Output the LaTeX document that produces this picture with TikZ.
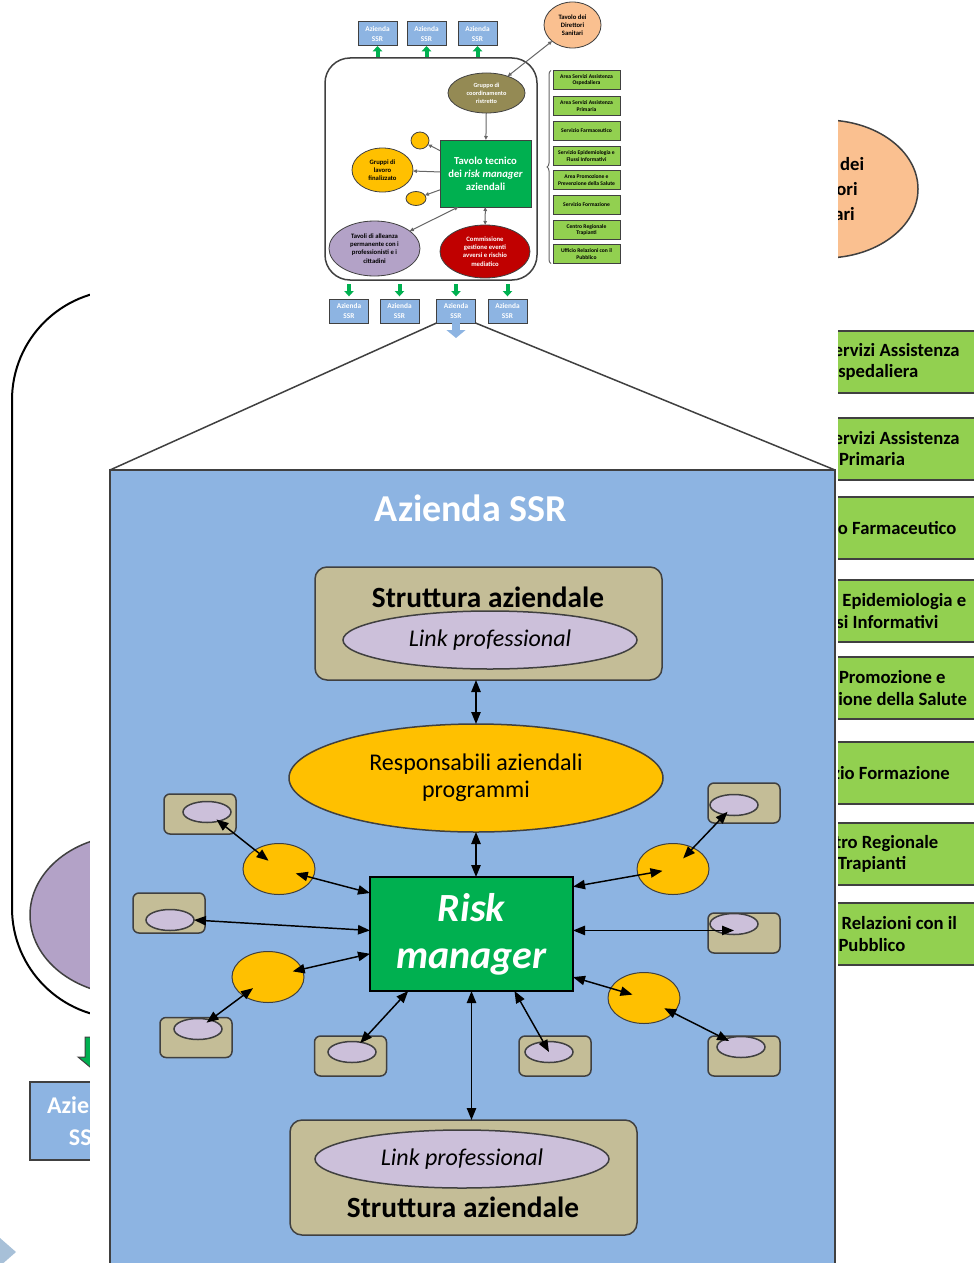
\documentclass[tikz,border=0pt]{standalone}
\usepackage{fontspec}
\setmainfont{Carlito}
\usetikzlibrary{calc,shapes.geometric,arrows.meta,decorations.pathreplacing}
\newlength{\pix}
\setlength{\pix}{0.75pt}
\definecolor{azblue}{HTML}{8DB4E2}
\definecolor{tanc}{HTML}{C4BD97}
\definecolor{lavc}{HTML}{CCC0DA}
\definecolor{ambra}{HTML}{FFC000}
\definecolor{verde}{HTML}{00B050}
\definecolor{verdino}{HTML}{92D050}
\definecolor{pesca}{HTML}{FAC090}
\definecolor{oliva}{HTML}{948A54}
\definecolor{rosso}{HTML}{C00000}
\definecolor{viola}{HTML}{B3A2C7}
\definecolor{bordo}{HTML}{404040}
\definecolor{freccia}{HTML}{A7C0D8}
\begin{document}
\begin{tikzpicture}[x=0.75pt, y=-0.75pt,
    every node/.style={inner sep=0pt, outer sep=0pt, align=center},
    sidebox/.style={draw=bordo, fill=verdino, line width=2\pix, minimum width=240\pix, minimum height=62\pix, font=\fontsize{14}{16}\selectfont\bfseries},
    tblue/.style={draw=bordo, fill=azblue, line width=1\pix, minimum width=39\pix, minimum height=24\pix, text=white, font=\fontsize{5.5}{7}\selectfont\bfseries},
    tgreen/.style={draw=bordo, fill=verdino, line width=0.8\pix, minimum width=67\pix, minimum height=19\pix, font=\fontsize{4.2}{4.8}\selectfont\bfseries},
    tell/.style={ellipse, draw=bordo, line width=0.8\pix, font=\fontsize{5}{6.2}\selectfont\bfseries},
    tarr/.style={->, >={Triangle[length=3pt,width=2.6pt]}, draw=bordo!80, line width=1\pix},
    tdbl/.style={tarr, <->},
    garr/.style={draw=verde, line width=4\pix, -{Triangle[length=4pt,width=7pt]}},
    tanbox/.style={draw=bordo, fill=tanc, line width=1.5\pix, rounded corners=12\pix},
    lavell/.style={ellipse, draw=bordo, fill=lavc, line width=1.5\pix, minimum width=294\pix, minimum height=58\pix, font=\fontsize{18}{20}\selectfont\itshape},
    satbox/.style={draw=bordo, fill=tanc, line width=1.5\pix, rounded corners=6\pix, minimum width=72\pix, minimum height=40\pix},
    satell/.style={ellipse, draw=bordo, fill=lavc, line width=1.5\pix, minimum width=48\pix, minimum height=21\pix},
    ycirc/.style={ellipse, draw=bordo, fill=ambra, line width=1\pix, minimum width=72\pix, minimum height=51\pix},
    dbl/.style={<->, >={Triangle[length=9pt,width=7pt]}, line width=1.1pt}
]
\useasboundingbox (0,0) rectangle (974,1263);

\node[draw=black, line width=2\pix, rounded corners=110\pix, minimum width=768\pix, minimum height=728\pix] (bgframe) at (396,654) {};
\node[ellipse, draw=bordo, fill=viola, line width=1.5\pix, minimum width=200\pix, minimum height=160\pix] (bgtavoli) at (130,915) {};
\node[ellipse, draw=bordo, fill=pesca, line width=1.5\pix, minimum width=186\pix, minimum height=138\pix, font=\fontsize{14}{19}\selectfont\bfseries] (bgdir) at (825,189) {Tavolo dei\\Direttori\\Sanitari};
\foreach \y/\t [count=\i] in {362/{Area Servizi Assistenza\\Ospedaliera}, 448.5/{Area Servizi Assistenza\\Primaria}, 528/{Servizio Farmaceutico}, 611/{Servizio Epidemiologia e\\Flussi Informativi}, 688/{Area Promozione e\\Prevenzione della Salute}, 773/{Servizio Formazione}, 854/{Centro Regionale\\Trapianti}, 934/{Ufficio Relazioni con il\\Pubblico}}
  \node[sidebox] (bgs\i) at (872,\y) {\t};
\node[draw=bordo, fill=azblue, line width=2\pix, minimum width=114\pix, minimum height=78\pix, text=white, font=\fontsize{18}{24}\selectfont\bfseries] (bgaz) at (87,1121) {Azienda\\SSR};
\filldraw[fill=verde, draw=bordo, line width=1\pix] (85,1037) -- (107,1037) -- (107,1057) -- (114,1057) -- (96,1072) -- (78,1057) -- (85,1057) -- cycle;
\fill[freccia] (0,1238) -- (16,1252) -- (0,1266) -- cycle;
\fill[white] (90,-5) rectangle (838,1270);

\node[draw=bordo, line width=1.5\pix, rounded corners=25\pix, minimum width=212\pix, minimum height=222\pix] (tframe) at (431,169) {};
\foreach \x [count=\i] in {377.5,426.5,477.5}
  \node[tblue] (ta\i) at (\x,34) {Azienda\\SSR};
\foreach \x [count=\i] in {349,399.5,456,507.5}
  \node[tblue] (tb\i) at (\x,311) {Azienda\\SSR};
\node[tell, fill=pesca, minimum width=57\pix, minimum height=46\pix] (tds) at (572.5,25) {Tavolo dei\\Direttori\\Sanitari};
\node[tell, fill=oliva, text=white, minimum width=77\pix, minimum height=40\pix, font=\fontsize{4.7}{6}\selectfont\bfseries] (tgc) at (486.5,93) {Gruppo di\\coordinamento\\ristretto};
\node[draw=bordo, fill=verde, line width=0.8\pix, minimum width=91\pix, minimum height=67\pix, text=white, font=\fontsize{8}{9.75}\selectfont\bfseries] (ttt) at (485.5,173.5) {Tavolo tecnico\\dei \textit{risk manager}\\aziendali};
\node[tell, fill=ambra, minimum width=18\pix, minimum height=17\pix] (tc1) at (420,140.5) {};
\node[tell, fill=ambra, minimum width=61\pix, minimum height=44\pix] (tgl) at (382.5,170) {Gruppi di\\lavoro\\finalizzato};
\node[tell, fill=ambra, minimum width=20\pix, minimum height=14\pix] (tc2) at (416,198.5) {};
\node[tell, fill=viola, minimum width=91\pix, minimum height=55\pix] (tal) at (374.5,248.5) {Tavoli di alleanza\\permanente con i\\professionisti e i\\cittadini};
\node[tell, fill=rosso, text=white, minimum width=90\pix, minimum height=53\pix] (tcg) at (485,251.5) {Commissione\\gestione eventi\\avversi e rischio\\mediatico};
\foreach \y/\t [count=\i] in {80/{Area Servizi Assistenza\\Ospedaliera}, 106/{Area Servizi Assistenza\\Primaria}, 131/{Servizio Farmaceutico}, 156/{Servizio Epidemiologia e\\Flussi Informativi}, 180/{Area Promozione e\\Prevenzione della Salute}, 205/{Servizio Formazione}, 230/{Centro Regionale\\Trapianti}, 254/{Ufficio Relazioni con il\\Pubblico}}
  \node[tgreen] (tg\i) at (586.5,\y) {\t};
\coordinate (tbtip) at (456,338);
\foreach \i in {1,2,3}
  \draw[garr, shorten <=1pt] (tframe.north -| ta\i) -- (ta\i.south);
\foreach \i in {1,...,4}
  \draw[garr, shorten <=3pt, shorten >=2pt] (tframe.south -| tb\i) -- (tb\i.north);
\draw[azblue, line width=8\pix, -{Triangle[length=6pt,width=14pt]}] (tb3.south) -- (tbtip);
\draw[tarr] (tgc) -- (ttt);
\draw[tdbl] (tgc) -- (tds);
\draw[tarr] (ttt) -- (tc1);
\draw[tarr] (ttt) -- (tgl);
\draw[tarr] (ttt) -- (tc2);
\draw[tdbl] (ttt.231) -- (tal);
\draw[tdbl] (ttt) -- (tcg);
\draw[bordo!80, line width=1\pix, decorate, decoration={brace, amplitude=3pt}] ($(tg8.south west)+(-2,0)$) -- ($(tg1.north west)+(-2,0)$);

\node[draw=bordo, fill=azblue, line width=1.5\pix, minimum width=725\pix, minimum height=820\pix] (azienda) at (472.5,880) {};
\draw[bordo, line width=1.5\pix] (tb3.south west) -- (azienda.north west);
\draw[bordo, line width=1.5\pix] (tb3.south east) -- (azienda.north east);
\node[text=white, font=\fontsize{28.5}{30}\selectfont\bfseries] (aztitle) at (471,508) {Azienda SSR};
\node[tanbox, minimum width=347\pix, minimum height=113\pix] (st) at (488.5,623.5) {};
\node[font=\fontsize{22}{24}\selectfont\bfseries] (sttxt) at (488,597) {Struttura aziendale};
\node[lavell] (lp1) at (490,640) {Link professional};
\node[ellipse, draw=bordo, fill=ambra, line width=1.5\pix, minimum width=374\pix, minimum height=108\pix, font=\fontsize{18}{20.25}\selectfont] (resp) at (476,778) {Responsabili aziendali\\programmi};
\node[draw=black, fill=verde, line width=1.5\pix, minimum width=203\pix, minimum height=114\pix, text=white, font=\fontsize{30}{35}\selectfont\bfseries\itshape] (rm) at (471.5,934) {Risk\\manager};
\node[tanbox, minimum width=347\pix, minimum height=115\pix] (sb) at (463.5,1177.5) {};
\node[lavell] (lp2) at (462,1159) {Link professional};
\node[font=\fontsize{22}{24}\selectfont\bfseries] (sbtxt) at (463,1207) {Struttura aziendale};
\foreach \n/\bx/\by/\ex/\ey in {A/200/814/207/812, B/169/913/170/920, C/196/1037.5/198/1029, D/350.5/1056/352/1052, E/744/803/734/805, F/744/933/734/924, G/744/1056/741/1047, H/555/1056/549/1052}{
  \node[satbox] (box\n) at (\bx,\by) {};
  \node[satell] (ell\n) at (\ex,\ey) {};
}
\foreach \n/\x/\y in {1/279/869, 2/268/977, 3/673/869, 4/644/998}
  \node[ycirc] (y\n) at (\x,\y) {};
\draw[dbl] (st.south -| resp.north) -- (resp.north);
\draw[dbl] (resp.south) -- (resp.south |- rm.north);
\draw[dbl] (rm.south) -- (rm.south |- sb.north);
\draw[dbl, shorten <=9pt, shorten >=10pt] (ellA.center) -- (y1.center);
\draw[dbl, shorten <=13pt] (y1.center) -- (rm.158);
\draw[dbl] (ellB.east) -- (rm.178);
\draw[dbl, shorten <=19pt] (y2.center) -- (rm.191);
\draw[dbl, shorten <=14pt, shorten >=8pt] (y2.center) -- (ellC.center);
\draw[dbl, shorten <=9pt] (ellD.center) -- (rm.222);
\draw[dbl, shorten <=7pt, shorten >=11pt] (ellE.center) -- (y3.center);
\draw[dbl, shorten <=8pt] (y3.center) -- (rm.25);
\draw[dbl] (rm.2) -- (rm.2 -| ellF.center);
\draw[dbl, shorten >=9pt] (rm.337) -- (y4.center);
\draw[dbl, shorten <=17pt, shorten >=10pt] (y4.center) -- (ellG.center);
\draw[dbl] (rm.307) -- (ellH.center);
\end{tikzpicture}
\end{document}
